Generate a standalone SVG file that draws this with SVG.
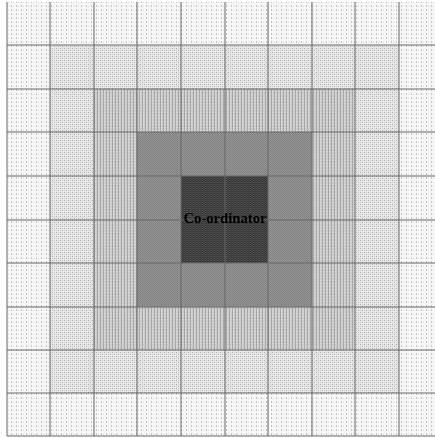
<svg xmlns="http://www.w3.org/2000/svg" width="435" height="438" viewBox="0 0 435 438">
  <style>
    .grid line { stroke: #666666; stroke-width: 1; }
    .label { font-family: "Liberation Serif", "Times New Roman", serif; font-weight: bold; font-size: 14px; fill: #000; }
  </style>
  <defs>
    <pattern id="p5" width="5" height="4" patternUnits="userSpaceOnUse">
      <rect width="5" height="4" fill="#f7f7f7"/>
      <rect x="1" y="1" width="1" height="2" fill="#c4c4c4"/>
      <rect x="3" y="2" width="1" height="1" fill="#dcdcdc"/>
    </pattern>
    <pattern id="p4" width="4" height="4" patternUnits="userSpaceOnUse">
      <rect width="4" height="4" fill="#e8e8e8"/>
      <rect x="0" y="0" width="1" height="1" fill="#a8a8a8"/>
      <rect x="2" y="2" width="1" height="1" fill="#b0b0b0"/>
      <rect x="2" y="0" width="1" height="1" fill="#d0d0d0"/>
      <rect x="0" y="2" width="1" height="1" fill="#d0d0d0"/>
    </pattern>
    <pattern id="p3" width="3" height="3" patternUnits="userSpaceOnUse">
      <rect width="3" height="3" fill="#cdcdcd"/>
      <rect x="1" y="0" width="1" height="3" fill="#a6a6a6"/>
      <rect x="2" y="1" width="1" height="1" fill="#e2e2e2"/>
    </pattern>
    <pattern id="p2" width="2" height="2" patternUnits="userSpaceOnUse">
      <rect width="2" height="2" fill="#999999"/>
      <rect x="0" y="0" width="1" height="1" fill="#7a7a7a"/>
      <rect x="1" y="1" width="1" height="1" fill="#828282"/>
    </pattern>
    <pattern id="p1" width="3" height="2" patternUnits="userSpaceOnUse">
      <rect width="3" height="2" fill="#404040"/>
      <rect x="1" y="0" width="1" height="2" fill="#5a5a5a"/>
      <rect x="1" y="1" width="1" height="1" fill="#2e2e2e"/>
    </pattern>
  </defs>
  <rect x="7" y="2" width="428" height="434" fill="url(#p5)"/>
  <rect x="50" y="45" width="349" height="348" fill="url(#p4)"/>
  <rect x="94" y="89" width="261" height="261" fill="url(#p3)"/>
  <rect x="137" y="132" width="175" height="175" fill="url(#p2)"/>
  <g id="coordinator">
    <rect x="181" y="176" width="87" height="87" fill="url(#p1)"/>
  </g>
  <g class="grid">
    <line x1="7" y1="2" x2="7" y2="436"/>
    <line x1="50" y1="2" x2="50" y2="436"/>
    <line x1="94" y1="2" x2="94" y2="436"/>
    <line x1="137" y1="2" x2="137" y2="436"/>
    <line x1="181" y1="2" x2="181" y2="436"/>
    <line x1="225" y1="2" x2="225" y2="436"/>
    <line x1="268" y1="2" x2="268" y2="436"/>
    <line x1="312" y1="2" x2="312" y2="436"/>
    <line x1="355" y1="2" x2="355" y2="436"/>
    <line x1="399" y1="2" x2="399" y2="436"/>
    <line x1="7" y1="45" x2="435" y2="45"/>
    <line x1="7" y1="89" x2="435" y2="89"/>
    <line x1="7" y1="132" x2="435" y2="132"/>
    <line x1="7" y1="176" x2="435" y2="176"/>
    <line x1="7" y1="220" x2="435" y2="220"/>
    <line x1="7" y1="263" x2="435" y2="263"/>
    <line x1="7" y1="307" x2="435" y2="307"/>
    <line x1="7" y1="350" x2="435" y2="350"/>
    <line x1="7" y1="393" x2="435" y2="393"/>
    <line x1="7" y1="436" x2="435" y2="436"/>
  </g>
  <text class="label" x="225" y="223" text-anchor="middle" textLength="83" lengthAdjust="spacingAndGlyphs">Co-ordinator</text>
</svg>
